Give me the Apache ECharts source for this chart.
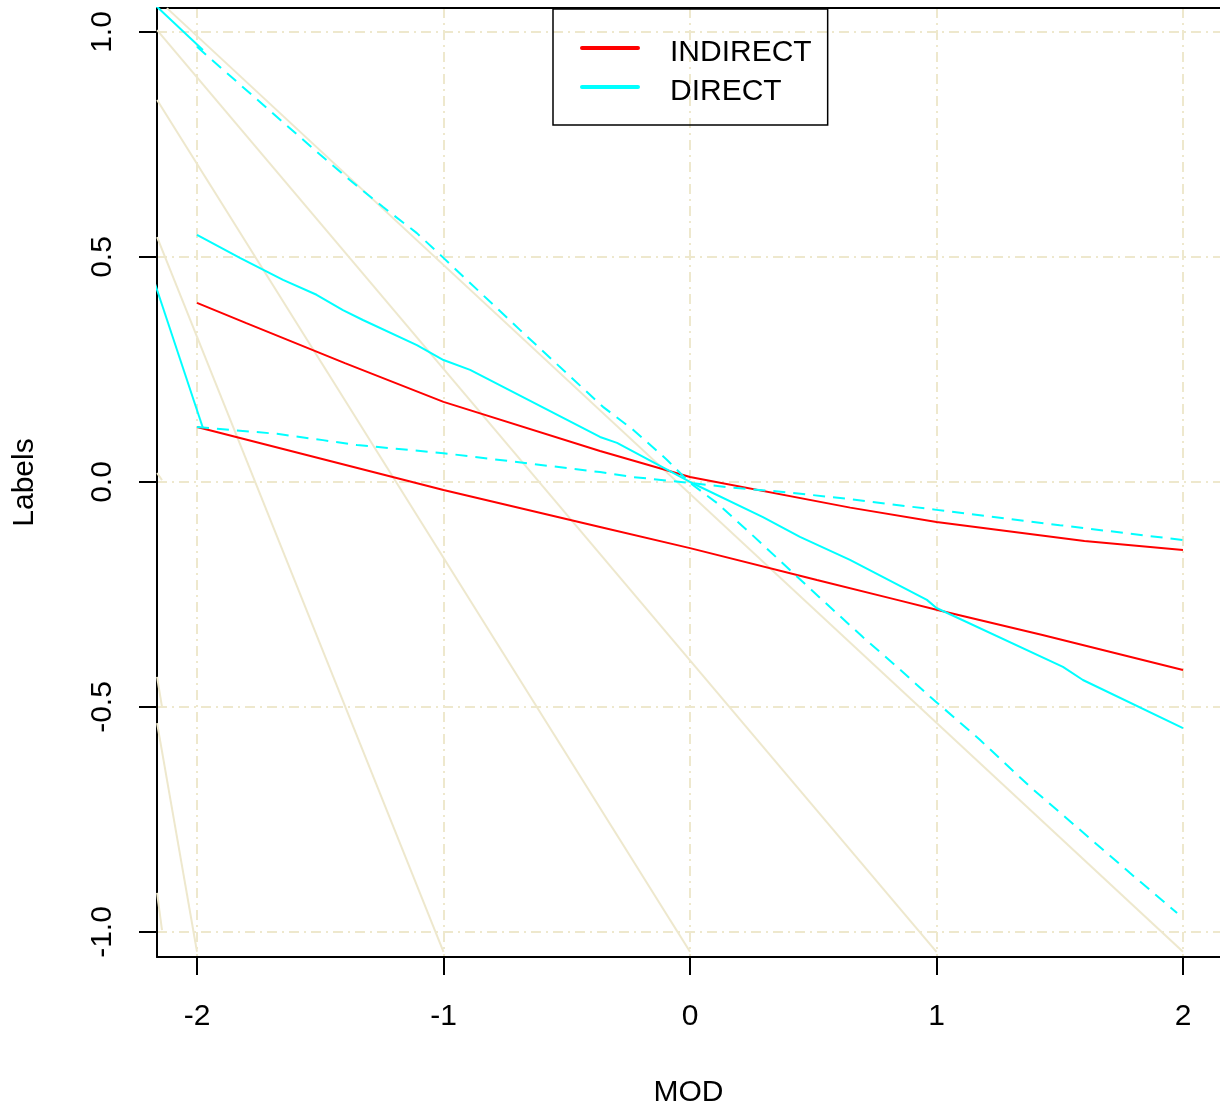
<!DOCTYPE html>
<html><head><meta charset="utf-8">
<script src="https://cdn.jsdelivr.net/npm/echarts@6/dist/echarts.min.js"></script>
<style>html,body{margin:0;padding:0;background:#fff}#c{width:1220px;height:1114px}</style>
</head><body><div id="c"></div>
<script>
// ---- data ----
const xTicks = [-2, -1, 0, 1, 2];
const yTicks = [-1, -0.5, 0, 0.5, 1];
const legendNames = ['INDIRECT', 'DIRECT'];

const indirectUpper = [[-2,0.398],[-1.8,0.353],[-1.4,0.264],[-1,0.178],[-0.365,0.069],[0,0.011],[0.65,-0.057],[1,-0.089],[1.6,-0.131],[2,-0.151]];
const indirectLower = [[-2,0.122],[-1,-0.018],[-0.365,-0.1],[0,-0.147],[0.515,-0.218],[0.84,-0.262],[1,-0.284],[1.43,-0.34],[2,-0.418]];
const directMain = [[-2,0.549],[-1.826,0.498],[-1.651,0.449],[-1.515,0.416],[-1.408,0.382],[-1.327,0.36],[-1.108,0.304],[-1,0.271],[-0.892,0.249],[-0.365,0.1],[-0.296,0.087],[0,0],[0.296,-0.078],[0.446,-0.122],[0.649,-0.173],[0.961,-0.262],[1,-0.28],[1.513,-0.411],[1.594,-0.44],[2,-0.547]];
const directUpper = [[-2,0.967],[-1.5,0.727],[-1.38,0.671],[-1.245,0.611],[-1.108,0.553],[-1,0.498],[-0.69,0.338],[-0.353,0.167],[-0.231,0.116],[-0.093,0.049],[0,-0.002],[0.11,-0.047],[0.243,-0.113],[0.418,-0.202],[0.568,-0.278],[0.70,-0.344],[0.84,-0.411],[0.974,-0.477],[1.176,-0.573],[1.379,-0.677],[1.582,-0.773],[1.785,-0.869],[1.976,-0.958]];
const directLower = [[-2,0.122],[-1.675,0.107],[-1.489,0.093],[-1.351,0.082],[-1.136,0.071],[-1,0.064],[-0.365,0.022],[-0.231,0.011],[0,-0.002],[0.176,-0.013],[0.377,-0.022],[0.649,-0.038],[1,-0.062],[1.5,-0.096],[2,-0.129]];
const directLeadUpper = [[-2.17,1.06],[-1.976,0.96]];
const directLeadLower = [[-2.17,0.44],[-1.976,0.12]];
const refLines = [
  [[-2.122,1.053],[2,-1.044]],
  [[-2.162,1.004],[1,-1.044]],
  [[-2.162,0.849],[0,-1.044]],
  [[-2.162,0.544],[-1,-1.044]],
  [[-2.162,-0.536],[-2,-1.044]],
  [[-2.162,0.02],[-2.142,0.004]],
  [[-2.162,-0.433],[-2.142,-0.5]],
  [[-2.162,-0.913],[-2.142,-0.996]]
];

// ---- styles ----
const FONT = "'Liberation Sans', Arial, Helvetica, sans-serif";
const GRID_COLOR = '#EEE8CD';
const RED = '#FF0000', CYAN = '#00FFFF';
const XMIN = -2.1623, XMAX = 2.1501, YMIN = -1.0556, YMAX = 1.0533;
// legend swatch: 4px bar at top of a 14px-high icon box (tiny invisible dot marks the bottom)
const LEGEND_ICON = 'path://M2,0H58A2,2 0 0 1 58,4H2A2,2 0 0 1 2,0Z M0,13.99H0.01V14H0Z';

function line(name, data, color, dashed, z) {
  return {
    name: name, type: 'line', data: data, showSymbol: false, symbol: 'none',
    silent: true, clip: true, z: z, animation: false, xAxisIndex: 0, yAxisIndex: 0,
    lineStyle: { color: color, width: 2, type: dashed ? [12, 8] : 'solid' },
    itemStyle: { color: color }
  };
}

const series = [
  line('INDIRECT', indirectUpper, RED, false, 3),
  line('INDIRECT', indirectLower, RED, false, 3),
  line('DIRECT', directMain, CYAN, false, 3),
  line('DIRECT', directUpper, CYAN, true, 3),
  line('DIRECT', directLower, CYAN, true, 3),
  line('DIRECT', directLeadUpper, CYAN, false, 3),
  line('DIRECT', directLeadLower, CYAN, false, 3)
];
refLines.forEach(function (d) { series.push(line('ref', d, GRID_COLOR, false, 1)); });

const chart = echarts.init(document.getElementById('c'), null, { renderer: 'canvas' });
chart.setOption({
  animation: false,
  backgroundColor: '#fff',
  grid: { left: 157, top: 8, right: 0, bottom: 157, show: false },
  xAxis: [{
    type: 'value', min: XMIN, max: XMAX, position: 'bottom',
    name: 'MOD', nameLocation: 'middle', nameGap: 121,
    nameTextStyle: { fontFamily: FONT, fontSize: 30, color: '#000' },
    axisLine: { show: true, onZero: false, lineStyle: { color: '#000', width: 2 } },
    axisTick: { show: true, length: 18, customValues: xTicks, lineStyle: { color: '#000', width: 2 } },
    axisLabel: { customValues: xTicks, margin: 45, fontFamily: FONT, fontSize: 30, color: '#000', formatter: function (v) { return String(v); } },
    splitLine: { show: true, lineStyle: { color: GRID_COLOR, width: 2, type: [10, 5, 2, 5] } }
  }, {
    type: 'value', min: XMIN, max: XMAX, position: 'top',
    axisLine: { show: true, onZero: false, lineStyle: { color: '#000', width: 2 } },
    axisTick: { show: false }, axisLabel: { show: false }, splitLine: { show: false }
  }],
  yAxis: {
    type: 'value', min: YMIN, max: YMAX, position: 'left',
    name: 'Labels', nameLocation: 'middle', nameGap: 117,
    nameTextStyle: { fontFamily: FONT, fontSize: 30, color: '#000' },
    axisLine: { show: true, onZero: false, lineStyle: { color: '#000', width: 2 } },
    axisTick: { show: true, length: 18, customValues: yTicks, lineStyle: { color: '#000', width: 2 } },
    axisLabel: { customValues: yTicks, rotate: 90, margin: 39, fontFamily: FONT, fontSize: 30, color: '#000', formatter: function (v) { return v.toFixed(1); } },
    splitLine: { show: true, lineStyle: { color: GRID_COLOR, width: 2, type: [10, 5, 2, 5] } }
  },
  legend: {
    data: legendNames, orient: 'vertical', left: 553, top: 9,
    padding: [29, 16, 18, 27], itemGap: 9, itemWidth: 60, itemHeight: 14, icon: LEGEND_ICON,
    itemStyle: { borderWidth: 0 },
    borderColor: '#000', borderWidth: 1.5, backgroundColor: 'transparent', selectedMode: false,
    textStyle: { fontFamily: FONT, fontSize: 30, lineHeight: 30, color: '#000', padding: [0, 0, 0, 25] }
  },
  series: series
});
</script></body></html>
